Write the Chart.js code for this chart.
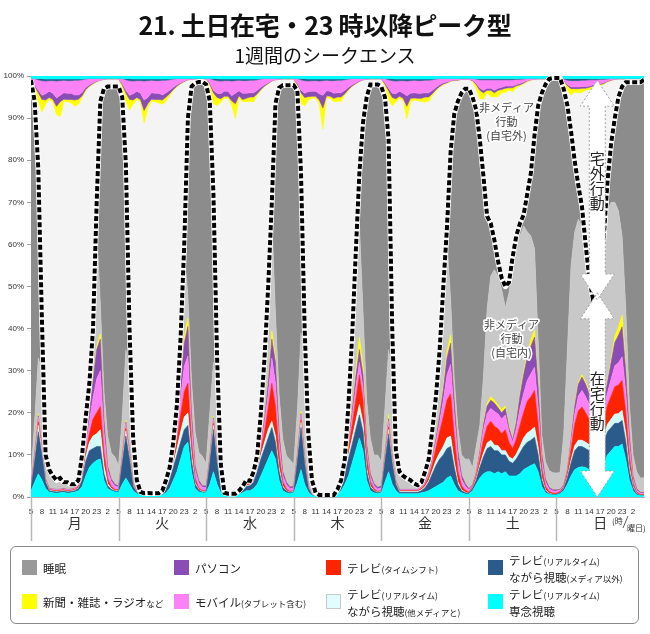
<!DOCTYPE html>
<html><head><meta charset="utf-8">
<script src="https://cdn.jsdelivr.net/npm/chart.js@4/dist/chart.umd.min.js"></script>
<style>
body{margin:0;background:#fff;font-family:"Noto Sans CJK JP",sans-serif;}
#wrap{position:relative;width:650px;height:634px;overflow:hidden;}
#c{position:absolute;left:0;top:0;}
.title{position:absolute;left:0;width:650px;text-align:center;color:#111;white-space:nowrap;}
#legendBox{position:absolute;left:10px;top:546px;width:629px;height:78px;border:1.5px solid #8a8a8a;border-radius:6px;box-sizing:border-box;}
.sw{position:absolute;width:15px;height:15px;box-sizing:border-box;}
.lb{position:absolute;font-size:11.5px;line-height:16px;color:#222;white-space:nowrap;}
.lb small{font-size:8.5px;}
</style></head><body>
<div id="wrap">
<canvas id="c" width="650" height="634"></canvas>
<div class="title" style="top:8px;font-size:25px;line-height:32px;font-weight:bold;letter-spacing:-0.3px;">21. 土日在宅・23 時以降ピーク型</div>
<div class="title" style="top:42px;font-size:19px;line-height:26px;">1週間のシークエンス</div>
<div id="legendBox"></div>
<div id="legendItems"></div>
</div>
<script>
// ---- categories / ticks ----
const days = ['月','火','水','木','金','土','日'];
const tickHours = [5,8,11,14,17,20,23,2];

// ---- at-home media layers (%), hourly from 5:00 Mon to 5:00 next Mon ----
const tvFocus = [
 1.5,3.5,5.5,4,2,1.2,1,0.9,1,1.1,0.9,1,1.2,1.5,2.5,5,7,8,8.7,9,4,2,1.5,1.2,
 1.2,3,4.5,3,1.5,0.8,0.4,0.4,0.5,0.4,0.4,0.4,0.5,1,2,4,6,9,12,13,6,2,1.2,1,
 1,3,6,3,1,0.4,0.4,0.4,0.4,0.6,1,1.5,1.5,2,3,5,7,9,11,9,4,1.5,1,0.8,
 1,3.5,6.5,3,1.2,0.3,0.3,0.3,0.3,0.3,0.3,0.3,0.7,1.5,3,5,8,11,14,11,4,1.5,1,0.8,
 1,3.5,6,3,1.5,0.8,0.8,0.8,0.8,0.8,0.8,1,1.2,1.5,2,2.5,3,3.5,4.5,5,3,1.5,1,0.7,
 0.7,1.5,3,4.5,5.5,6,6,5.5,6,5.5,6,5,5,5,5.5,6.5,7,7.5,7.9,6,2.5,1,0.6,0.5,
 0.5,0.8,1.5,3,5,6.5,7,7.2,7,6.5,6,6,6.5,8,10,11,12,12,12.6,9,4,1.5,0.5,0.3,
 0.3];
const tvNonMedia = [
 0.5,5,10,6,1.5,0.3,0.3,0.3,0.3,0.3,0.3,0.3,0.3,0.5,1.5,3.5,4,3.5,3.3,3,1.5,0.7,0.3,0.2,
 0.2,5,10,6,1,0.3,0.1,0.1,0.1,0.1,0.1,0.1,0.1,0.8,2,3,4,4,4,4,2.5,1,0.4,0.2,
 0.2,5,10,5,0.8,0.1,0.1,0.1,0.1,0.2,0.5,1,1.2,1.5,3,4,4.5,5,5.5,4,2,0.8,0.4,0.2,
 0.2,5,10,5,1,0.05,0.05,0.05,0.05,0.05,0.05,0.05,0.3,1,2.5,4,4.5,5,5.5,4.5,2,0.8,0.4,0.2,
 0.2,5,9,5,1.5,0.3,0.3,0.3,0.3,0.3,0.3,0.5,1,2,3.5,5,6,6.5,7,7,4,1.5,0.5,0.3,
 0.2,0.5,1,2.5,4,5.5,6,5.5,5,4.5,4,3.5,3,4,5,5.5,6,6,6.3,4,1.5,0.5,0.2,0.1,
 0.1,0.2,0.5,1.5,3,4.5,5,4.8,4.5,4.5,4.5,4.5,4.5,5,5.5,5.5,5.5,5.5,5.6,4.2,2,0.7,0.2,0.1,
 0.1];
const tvOtherMedia = [
 0,0.5,1.5,1,0.3,0.1,0.1,0.1,0.1,0.1,0.1,0.1,0.1,0.2,0.4,1,2,3,3,4,2,0.5,0.2,0.1,
 0.1,0.5,1.2,0.8,0.2,0.1,0,0,0,0,0,0,0,0.2,0.4,0.8,1.5,2.5,3,3,1.5,0.4,0.1,0.1,
 0.1,0.5,1,0.6,0.2,0,0,0,0,0,0.1,0.2,0.2,0.3,0.6,1,1.5,2,1.5,1.5,1,0.3,0.1,0.1,
 0.1,0.5,1.2,0.6,0.2,0,0,0,0,0,0,0,0.1,0.2,0.5,1,1.5,2,2.5,2,0.8,0.3,0.1,0.1,
 0.1,0.5,1,0.6,0.3,0.2,0.2,0.2,0.2,0.2,0.2,0.2,0.3,0.4,0.8,1.2,1.5,2,2.5,2.5,1.5,0.6,0.2,0.1,
 0,0.1,0.3,0.6,1,1.3,1.5,1.3,1.2,1,1,1,1,1.2,1.5,2,2.2,2.3,2.4,1.8,0.6,0.2,0.1,0.05,
 0,0,0.1,0.3,0.8,1.2,1.5,1.5,1.5,1.4,1.3,1.3,1.3,1.5,1.8,2,2.2,2.3,2.4,2,1,0.3,0.1,0,
 0];
const tvShift = [
 0.2,0.3,0.8,0.5,0.2,0.2,0.2,0.2,0.2,0.2,0.2,0.2,0.2,0.4,0.5,1,2,4,5,5.5,3,1.2,0.5,0.3,
 0.2,0.3,0.6,0.4,0.2,0.1,0.1,0.1,0.1,0.1,0.1,0.1,0.1,0.3,0.5,0.8,2,4,6,7,3,1,0.4,0.2,
 0.2,0.3,0.5,0.3,0.1,0.1,0.1,0.1,0.1,0.2,0.2,0.3,0.3,0.4,0.8,1.2,2.5,5,9,7,3,1,0.4,0.2,
 0.2,0.3,0.6,0.3,0.1,0.05,0.05,0.05,0.05,0.05,0.05,0.05,0.1,0.3,0.7,1.5,3,5,7,5.5,2.5,1,0.4,0.2,
 0.2,0.3,0.6,0.3,0.2,0.2,0.2,0.2,0.2,0.2,0.2,0.3,0.5,0.8,1.5,3,5,7,9,10,6,2.5,1,0.5,
 0.3,0.3,0.6,1.5,3,4,4.5,4.5,4,4,5,3.5,2.5,3.5,5,6,7.5,8,8.7,5.5,2,0.8,0.4,0.3,
 0.3,0.3,0.3,0.8,2.5,5,7,7.9,7,6,5,5,4.5,4,4.5,5.5,6.5,6.8,7.1,5,2.5,0.8,0.3,0.2,
 0.2];
const mobile = [
 0.5,0.7,1.2,0.8,0.3,0.2,0.2,0.2,0.2,0.2,0.2,0.2,0.2,0.4,0.8,1.5,3,5,8,8.5,5,2,1.2,0.8,
 0.6,0.8,1.2,0.7,0.3,0.2,0.1,0.1,0.1,0.1,0.1,0.1,0.1,0.4,0.8,1.2,2.5,4,6,6.5,4,2,1.2,0.8,
 0.7,0.8,1,0.5,0.2,0.1,0.1,0.1,0.1,0.2,0.2,0.3,0.3,0.5,0.8,1.2,2,3.5,6,5.5,3,1.5,1,0.7,
 0.7,0.8,1.2,0.5,0.2,0.05,0.05,0.05,0.05,0.05,0.05,0.05,0.2,0.4,0.8,1.2,2,3,3,3,2,1.2,0.8,0.6,
 0.7,0.8,1.5,0.6,0.3,0.2,0.2,0.2,0.2,0.2,0.2,0.3,0.4,0.6,1,1.5,2.5,4,6,7,5,3,1.5,1,
 0.5,0.3,0.5,1.2,2.5,3,3,3.5,3.5,3.5,3.5,2.5,1.5,2.5,4,4.5,5,5.5,5.5,4,2,1,0.6,0.5,
 0.5,0.3,0.3,0.6,1.5,2.5,3.5,3.9,3.8,3.5,3,3,2.5,2.5,3,4,5,5.3,5.6,4.8,3,1,0.5,0.3,
 0.3];
const pc = [
 0.2,0.2,0.3,0.2,0.1,0.1,0.1,0.1,0.1,0.1,0.1,0.1,0.1,0.2,0.4,0.8,1.5,4,7,7.5,3,1,0.6,0.4,
 0.3,0.2,0.3,0.2,0.1,0.1,0.05,0.05,0.05,0.05,0.05,0.05,0.05,0.2,0.4,0.5,1.2,3,5.5,7,3,1,0.6,0.4,
 0.4,0.2,0.3,0.2,0.1,0,0,0,0,0.05,0.1,0.1,0.1,0.2,0.3,0.5,1,2.5,4.5,5,2.5,1,0.6,0.4,
 0.4,0.2,0.3,0.2,0.1,0,0,0,0,0,0,0,0.1,0.2,0.3,0.6,1.2,2.5,3,3,1.5,0.8,0.5,0.4,
 0.4,0.3,0.5,0.2,0.1,0.1,0.1,0.1,0.1,0.1,0.1,0.1,0.2,0.3,0.4,0.8,1.5,2.5,4,5,3.5,2,1,0.6,
 0.3,0.2,0.3,0.6,1.2,1.8,2,2,1.5,1.5,1.5,1,0.6,1.5,3,4.5,5.5,6.5,7.2,5,1.8,0.8,0.4,0.3,
 0.3,0.2,0.2,0.3,0.8,1.8,2.8,3.2,3,2.5,2,2,1.5,1.5,2.5,4,5.5,6.5,7.1,5,2.5,0.7,0.4,0.2,
 0.2];
const print = [
 0,0.3,0.5,0.3,0.1,0,0,0,0,0,0,0,0,0,0.1,0.2,0.3,0.5,0.8,1.2,0.5,0.2,0,0,
 0,0.3,0.4,0.2,0.1,0.1,0.1,0.1,0.1,0.1,0.1,0.1,0.1,0.1,0.1,0.2,0.3,0.8,1.5,2,0.5,0.1,0,0,
 0,0.3,0.4,0.2,0,0,0,0,0,0,0,0,0,0.1,0.1,0.2,0.3,0.6,2,1,0.5,0.2,0,0,
 0,0.3,0.6,0.2,0,0,0,0,0,0,0,0,0,0,0.1,0.2,0.5,1.5,3,2,0.5,0.1,0,0,
 0,0.4,1,0.3,0.1,0,0,0,0,0,0,0,0.1,0.1,0.2,0.3,0.6,1,1.5,2,0.8,0.3,0.1,0,
 0,0,0.1,0.3,0.5,0.6,0.8,0.7,0.6,0.8,0.6,0.5,0.3,0.4,0.6,0.8,1,1.5,1.7,1,0.3,0.1,0,0,
 0,0,0,0.1,0.3,0.4,0.5,0.5,0.6,0.5,0.5,0.4,0.3,0.3,0.5,0.8,1.5,2,2.8,1.2,0.5,0.1,0,0,
 0];
// non-media at home (light gray) and sleep (dark gray)
const nonMediaHome = [
 2.1,7.5,13.2,17.2,4,4.4,3.1,2.2,2.6,1.5,1.7,1.1,0.9,0.8,3.8,6,7.2,11,28.2,7.3,6,6.9,6.2,6.5,
 4.9,8.9,16.8,17.7,8.6,2.3,0.35,0.05,0,0.05,0.05,0.05,0.55,1,0.8,2.5,4.5,10.7,20,5.5,7,7.8,6.7,6.9,
 5.4,9.9,12.8,15.2,4.6,0.3,0.1,0.1,0.1,0.25,0.4,0.6,0.2,1,1.4,6.9,14.2,22.4,27.5,10.5,8.2,7.5,6.3,6.4,
 5.2,9.9,18.6,20.2,10.2,3.55,0.55,0.05,0.05,0.05,0.05,0.05,0.3,0.4,1.1,8.5,17.3,26,27,13,9.7,8.3,6.8,7.7,
 5.9,10.2,15.4,18,5,3.7,3.2,2.6,2.2,1.4,1,1.1,2.3,3.3,6.6,9.7,14.9,23.5,26.5,8.5,4.2,5,4.7,5.8,
 7,4.1,6.2,5.8,11,22.5,28.7,31,30.7,28.5,23.4,31.5,41.1,41.9,37.4,34.6,28.8,24.7,19.3,9.7,4,4,4,4,
 4,4,12,28.4,41,41,38.7,35,29.6,25.1,22.7,23.8,29.9,36.2,40.2,37.2,31.8,27.6,18.8,13.8,6.5,4.9,4,3.4,
 3.5];
const sleep = [
 94,76,45,12,1.5,0,0,0,0,0,0,0,0,0,0,0,0,1,6,48,72,83,87,88,
 90,76,44,11,2,0,0,0,0,0,0,0,0,0,0,0,0,0,2,42,70,83,88,89,
 90,74,40,8,1,0,0,0,0,0,0,0,0,0,0,0,0,0,3,50,73,84,88,89,
 90,76,38,10,2,0,0,0,0,0,0,0,0,0,0,0,0,2,12,45,72,84,88,88,
 89,74,50,12,2,0.5,0,0,0,0,0,0,0,0,0,0,0,0,3,35,63,77.6,86,88,
 88,88,80,68,47.5,22,12.5,7,3.5,2.7,5,2.5,2,2,3,2.6,9,15,27,56,81.3,89.6,93,93.75,
 93.8,93.7,82,58,32,17,8,5,3,2,2,2,2,3,7,14,20,27,35.5,53.5,76.5,88.5,92.5,94,
 94.5];
// ---- out-of-home media (hanging from 100%) ----
const outTV = [
 0.6,0.6,0.6,0.6,0.7,0.7,0.7,0.7,0.7,0.7,0.7,0.7,0.7,0.7,0.7,0.6,0.6,0.6,0.6,0.6,0.6,0.6,0.6,0.6,
 0.6,0.6,0.6,0.6,0.7,0.7,0.7,0.7,0.7,0.7,0.7,0.7,0.7,0.7,0.7,0.6,0.6,0.6,0.6,0.6,0.6,0.6,0.6,0.6,
 0.6,0.6,0.6,0.6,0.7,0.7,0.7,0.7,0.7,0.7,0.7,0.7,0.7,0.7,0.7,0.6,0.6,0.6,0.6,0.6,0.6,0.6,0.6,0.6,
 0.6,0.6,0.6,0.6,0.7,0.7,0.7,0.7,0.7,0.7,0.7,0.7,0.7,0.7,0.7,0.6,0.6,0.6,0.6,0.6,0.6,0.6,0.6,0.6,
 0.6,0.6,0.6,0.6,0.7,0.7,0.7,0.7,0.7,0.7,0.7,0.7,0.7,0.7,0.7,0.6,0.6,0.6,0.6,0.6,0.6,0.6,0.6,0.6,
 0.6,0.6,0.6,0.6,0.6,0.6,0.6,0.6,0.6,0.6,0.6,0.6,0.6,0.6,0.6,0.6,0.6,0.6,0.6,0.6,0.6,0.6,0.6,0.6,
 0.6,0.6,0.6,0.6,0.6,0.6,0.6,0.6,0.6,0.6,0.6,0.6,0.6,0.6,0.6,0.6,0.6,0.6,0.6,0.6,0.6,0.6,0.6,0.6,
 0.6];
const outTVWhile = [
 0,0,0.3,0.5,0.5,0.4,0.4,0.5,0.4,0.3,0.4,0.4,0.3,0.3,0.2,0.1,0,0,0,0,0,0,0,0,
 0,0,0.3,0.5,0.5,0.4,0.4,0.5,0.4,0.3,0.4,0.4,0.3,0.3,0.2,0.1,0,0,0,0,0,0,0,0,
 0,0,0.3,0.5,0.5,0.4,0.4,0.5,0.4,0.3,0.4,0.4,0.3,0.3,0.2,0.1,0,0,0,0,0,0,0,0,
 0,0,0.3,0.5,0.5,0.4,0.4,0.5,0.4,0.3,0.4,0.4,0.3,0.3,0.2,0.1,0,0,0,0,0,0,0,0,
 0,0,0.3,0.5,0.5,0.4,0.4,0.5,0.4,0.3,0.4,0.4,0.3,0.3,0.2,0.1,0,0,0,0,0,0,0,0,
 0,0,0.1,0.3,0.3,0.3,0.3,0.3,0.3,0.3,0.3,0.3,0.3,0.2,0.2,0.1,0,0,0,0,0,0,0,0,
 0,0,0.1,0.4,0.5,0.5,0.5,0.4,0.4,0.3,0.3,0.3,0.2,0.2,0.1,0,0,0,0,0,0,0,0,0,
 0];
const outMobile = [
 0.3,1.5,2.5,3.5,3,2.5,3,4,3.5,3,3,3,3.5,3.5,3,2,1.5,1,0.6,0.4,0.2,0.1,0.1,0.1,
 0.1,1.2,2.5,3.5,3,2.5,3,4.5,4,3,3,3,3.5,3,2.5,2,1.5,1,0.6,0.3,0.2,0.1,0.1,0.1,
 0.1,1,2.5,3,3,2.5,2.5,3.5,3,2.5,3,3,3,3,2.5,2,1.5,1,0.5,0.3,0.2,0.1,0.1,0.1,
 0.1,1.2,2.5,3,2.5,2.5,2.5,3,3.5,2.5,2.5,3,3,3,2.5,2,1.5,1,0.6,0.3,0.2,0.1,0.1,0.1,
 0.1,1,2,3,3,2.5,3,3.5,3,3,3,3,3,3,2.5,2,1.5,1,0.8,0.5,0.3,0.3,0.2,0.2,
 0.2,0.4,1,2,2.5,2,2,2.5,2,1.8,1.5,1.5,1.5,1.2,1,0.8,0.5,0.3,0.2,0.1,0.1,0.1,0.1,0.1,
 0.1,0.1,0.3,1,1.5,1.5,1.5,1.5,1.5,1.5,1.2,1,1,0.8,0.5,0.3,0.2,0.1,0.1,0.1,0.1,0.1,0.1,0.1,
 0.1];
const outPC = [
 0.1,0.3,0.6,1,1.5,1.5,1.5,2,1.5,1.5,1.5,1.5,1.2,1,0.8,0.5,0.3,0.2,0.1,0,0,0,0,0,
 0,0.3,0.6,1,1.5,1.5,1.5,2.5,1.5,1.5,1.5,1.5,1.2,1,0.8,0.5,0.3,0.2,0.1,0,0,0,0,0,
 0,0.3,0.6,1,1.2,1.2,1.2,1.2,2.5,1.2,1.5,1.2,1,1,0.8,0.5,0.3,0.2,0.1,0,0,0,0,0,
 0,0.3,0.6,1,1.2,1.2,1.2,1.5,3,1.2,1.2,1.2,1,1,0.8,0.5,0.3,0.2,0.1,0,0,0,0,0,
 0,0.3,0.6,1,1.2,1.2,1.2,2.5,1.2,1.2,1.2,1.2,1,1,0.8,0.5,0.4,0.3,0.2,0.1,0.1,0.1,0,0,
 0,0.1,0.3,0.5,0.6,0.5,0.5,0.6,0.5,0.5,0.5,0.4,0.4,0.3,0.3,0.2,0.1,0,0,0,0,0,0,0,
 0,0,0.1,0.3,0.4,0.4,0.4,0.4,0.4,0.3,0.3,0.3,0.2,0.2,0.1,0.1,0,0,0,0,0,0,0,0,
 0];
const outPrint = [
 0.1,0.8,2,3,1,0.5,0.5,2,3.5,0.5,0.5,0.8,1.5,1.2,0.5,0.3,0.1,0.2,0.1,0,0,0,0,0,
 0,0.8,2,2.5,1,0.5,0.5,3,1,0.5,0.5,0.8,1,1,0.5,0.3,0.2,0.1,0.1,0,0,0,0,0,
 0,0.8,2.5,2,0.8,0.5,0.5,1,3.5,0.5,0.5,0.8,1,1.2,0.4,0.3,0.1,0.1,0,0,0,0,0,0,
 0,0.8,2.5,2,0.8,0.5,0.5,1,5,0.5,0.5,0.8,1,1,0.4,0.3,0.1,0.1,0,0,0,0,0,0,
 0,0.6,2,2,0.8,0.5,0.5,3,1,0.5,0.5,0.8,1.2,1,0.5,0.4,0.2,0.2,0.1,0.1,0.1,0,0,0,
 0,0.2,1,2,1.5,0.5,1.5,1,1.5,0.8,1,0.5,1,0.5,0.3,0.2,0.2,0.1,0,0,0,0,0,0,
 0,0,0.3,1,1.5,0.8,1,1,0.5,0.5,0.5,0.3,0.3,0.2,0.1,0.1,0,0,0,0,0,0,0,0,
 0];

// ---- annotation anchors (in data units: hour index / percent) ----
const arrowHour = 155.2;
const arrowOut = [99, 46.8];
const arrowIn = [48.5, 0];
const labelOutside = {hour:130.3, pct:92.4, lines:['非メディア','行動','(自宅外)']};
const labelInside  = {hour:131.7, pct:40.9, lines:['非メディア','行動','(自宅内)']};
const vertOut = {pct:80.5, text:'宅外行動'};
const vertIn  = {pct:28.3, text:'在宅行動'};

// ---- styles ----
const C = {
  tvFocus:'#00ffff', tvNonMedia:'#2b5b8b', tvOtherMedia:'#d2fbfb', tvShift:'#ff2400',
  mobile:'#fb82f6', pc:'#8a4db5', print:'#ffff00', nonMediaHome:'#c8c8c8', sleep:'#8c8c8c'
};

const hours = tvFocus.map((_, i) => i);
const pts = arr => arr.map((v, i) => ({x: i, y: v}));

const homeLayers = [
  [tvFocus, C.tvFocus], [tvNonMedia, C.tvNonMedia], [tvOtherMedia, C.tvOtherMedia],
  [tvShift, C.tvShift], [mobile, C.mobile], [pc, C.pc], [print, C.print],
  [nonMediaHome, C.nonMediaHome], [sleep, C.sleep]
];
const topLayers = [
  [outTV, C.tvFocus], [outTVWhile, C.tvNonMedia], [outMobile, C.mobile], [outPC, C.pc], [outPrint, C.print]
];
const atHome = hours.map(i => homeLayers.reduce((s, l) => s + l[0][i], 0));

const datasets = [];
homeLayers.forEach(([arr, col], k) => datasets.push({
  data: pts(arr), yAxisID: 'y', backgroundColor: col, borderColor: col, borderWidth: 0.6,
  pointRadius: 0, fill: k === 0 ? 'origin' : '-1', tension: 0
}));
topLayers.forEach(([arr, col], k) => datasets.push({
  data: pts(arr), yAxisID: 'yTop', backgroundColor: col, borderColor: col, borderWidth: 0.6,
  pointRadius: 0, fill: k === 0 ? 'origin' : '-1', tension: 0
}));
datasets.push({data: pts(atHome), yAxisID: 'yH', borderColor: '#ffffff', borderWidth: 5.5,
  pointRadius: 0, fill: false, order: -1, borderJoinStyle: 'round'});
datasets.push({data: pts(atHome), yAxisID: 'yH', borderColor: '#000000', borderWidth: 4,
  borderDash: [5, 2.5], pointRadius: 0, fill: false, order: -2});

function arrowPath(ctx, x, y1, y2) {
  const sw = 8, hw = 17, hh = 26;
  ctx.beginPath();
  ctx.moveTo(x, y1);
  ctx.lineTo(x + hw, y1 + hh); ctx.lineTo(x + sw, y1 + hh);
  ctx.lineTo(x + sw, y2 - hh); ctx.lineTo(x + hw, y2 - hh);
  ctx.lineTo(x, y2);
  ctx.lineTo(x - hw, y2 - hh); ctx.lineTo(x - sw, y2 - hh);
  ctx.lineTo(x - sw, y1 + hh); ctx.lineTo(x - hw, y1 + hh);
  ctx.closePath();
}
function halo(ctx, t, x, y) {
  ctx.lineJoin = 'round'; ctx.lineWidth = 3.5; ctx.strokeStyle = '#fff';
  ctx.strokeText(t, x, y); ctx.fillStyle = '#444'; ctx.fillText(t, x, y);
}

const decor = {
  id: 'decor',
  beforeDraw(chart) {
    const {ctx, chartArea: a} = chart;
    ctx.save(); ctx.fillStyle = '#f4f4f4'; ctx.fillRect(a.left, a.top, a.width, a.height); ctx.restore();
  },
  afterDatasetsDraw(chart) {
    const {ctx} = chart, xs = chart.scales.x, ys = chart.scales.y;
    const ax = xs.getPixelForValue(arrowHour);
    const shapes = [arrowOut, arrowIn].map(r => [ys.getPixelForValue(r[0]), ys.getPixelForValue(r[1])]);
    ctx.save();
    shapes.forEach(([a, b]) => { arrowPath(ctx, ax, a, b); ctx.fillStyle = '#fff'; ctx.fill(); });
    ctx.setLineDash([2, 2]); ctx.strokeStyle = '#a0a0a0'; ctx.lineWidth = 1;
    shapes.forEach(([a, b]) => { arrowPath(ctx, ax, a, b); ctx.stroke(); });
    ctx.setLineDash([]);
    ctx.textAlign = 'center'; ctx.textBaseline = 'middle';
    ctx.font = "15px 'Noto Sans CJK JP'"; ctx.fillStyle = '#222';
    [vertOut, vertIn].forEach(v => {
      const y0 = ys.getPixelForValue(v.pct);
      [...v.text].forEach((ch, i) => ctx.fillText(ch, ax, y0 + i * 15));
    });
    ctx.font = "11px 'Noto Sans CJK JP'";
    [labelOutside, labelInside].forEach(l => {
      const x = xs.getPixelForValue(l.hour), y0 = ys.getPixelForValue(l.pct);
      l.lines.forEach((t, i) => halo(ctx, t, x, y0 + i * 14));
    });
    ctx.restore();
  },
  afterDraw(chart) {
    const {ctx, chartArea: a} = chart, xs = chart.scales.x;
    ctx.save();
    ctx.strokeStyle = '#b8b8b8'; ctx.lineWidth = 1.5;
    days.forEach((d, i) => {
      const x = Math.round(xs.getPixelForValue(i * 24)) + 0.5;
      ctx.beginPath(); ctx.moveTo(x, a.bottom); ctx.lineTo(x, a.bottom + 44); ctx.stroke();
    });
    ctx.fillStyle = '#333'; ctx.textAlign = 'center'; ctx.textBaseline = 'middle';
    ctx.font = "14px 'Noto Sans CJK JP'";
    days.forEach((d, i) => ctx.fillText(d, xs.getPixelForValue(i * 24 + 12), a.bottom + 26));
    ctx.font = "8px 'Noto Sans CJK JP'"; ctx.textAlign = 'left';
    ctx.fillText('(時', a.right - 32, a.bottom + 24);
    ctx.fillText('曜日)', a.right - 17, a.bottom + 31);
    ctx.strokeStyle = '#333'; ctx.lineWidth = 0.8;
    ctx.beginPath(); ctx.moveTo(a.right - 21, a.bottom + 31); ctx.lineTo(a.right - 16, a.bottom + 19); ctx.stroke();
    ctx.restore();
  }
};

new Chart(document.getElementById('c'), {
  type: 'line',
  data: {datasets},
  options: {
    responsive: false, animation: false, devicePixelRatio: 1,
    layout: {padding: {top: 76, right: 6, bottom: 117, left: 0}},
    plugins: {legend: {display: false}, tooltip: {enabled: false}},
    elements: {line: {tension: 0}},
    scales: {
      x: {
        type: 'linear', min: 0, max: 168,
        afterFit: s => { s.height = 20; },
        grid: {display: false},
        border: {display: true, color: '#b0b0b0'},
        ticks: {
          stepSize: 3, autoSkip: false, maxRotation: 0, padding: 2,
          font: {size: 8, family: "'Liberation Sans', Arial, sans-serif"}, color: '#333',
          callback: v => (v >= 168 ? null : String(tickHours[(v / 3) % 8]))
        }
      },
      y: {
        stacked: true, min: 0, max: 100,
        afterFit: s => { s.width = 31; },
        grid: {drawOnChartArea: false, tickLength: 4, color: '#a0a0a0'},
        border: {display: true, color: '#a0a0a0'},
        ticks: {stepSize: 10, padding: 3, font: {size: 8, family: "'Liberation Sans', Arial, sans-serif"},
          color: '#333', callback: v => v + '%'}
      },
      yTop: {type: 'linear', display: false, stacked: true, reverse: true, min: 0, max: 100},
      yH: {type: 'linear', display: false, min: 0, max: 100}
    }
  },
  plugins: [decor]
});

// ---- legend (HTML) ----
const legendItems = [
  {c: '#999999', x: 22, y: 560, lines: ['睡眠']},
  {c: C.pc, x: 174, y: 560, lines: ['パソコン']},
  {c: C.tvShift, x: 326, y: 560, lines: ['テレビ<small>(タイムシフト)</small>']},
  {c: C.tvNonMedia, x: 488, y: 560, lines: ['テレビ<small>(リアルタイム)</small>', 'ながら視聴<small>(メディア以外)</small>']},
  {c: C.print, x: 22, y: 594, lines: ['新聞・雑誌・ラジオ<small>など</small>']},
  {c: C.mobile, x: 174, y: 594, lines: ['モバイル<small>(タブレット含む)</small>']},
  {c: '#e2fdfd', x: 326, y: 594, lines: ['テレビ<small>(リアルタイム)</small>', 'ながら視聴<small>(他メディアと)</small>'], border: true},
  {c: C.tvFocus, x: 488, y: 594, lines: ['テレビ<small>(リアルタイム)</small>', '専念視聴']}
];
const holder = document.getElementById('legendItems');
legendItems.forEach(it => {
  const sw = document.createElement('div');
  sw.className = 'sw';
  sw.style.left = it.x + 'px'; sw.style.top = it.y + 'px'; sw.style.background = it.c;
  if (it.border) sw.style.border = '1px solid #c8c8c8';
  holder.appendChild(sw);
  const lb = document.createElement('div');
  lb.className = 'lb';
  lb.style.left = (it.x + 21) + 'px';
  lb.style.top = (it.y + 7.5 - it.lines.length * 8) + 'px';
  lb.innerHTML = it.lines.join('<br>');
  holder.appendChild(lb);
});
</script>
</body></html>
